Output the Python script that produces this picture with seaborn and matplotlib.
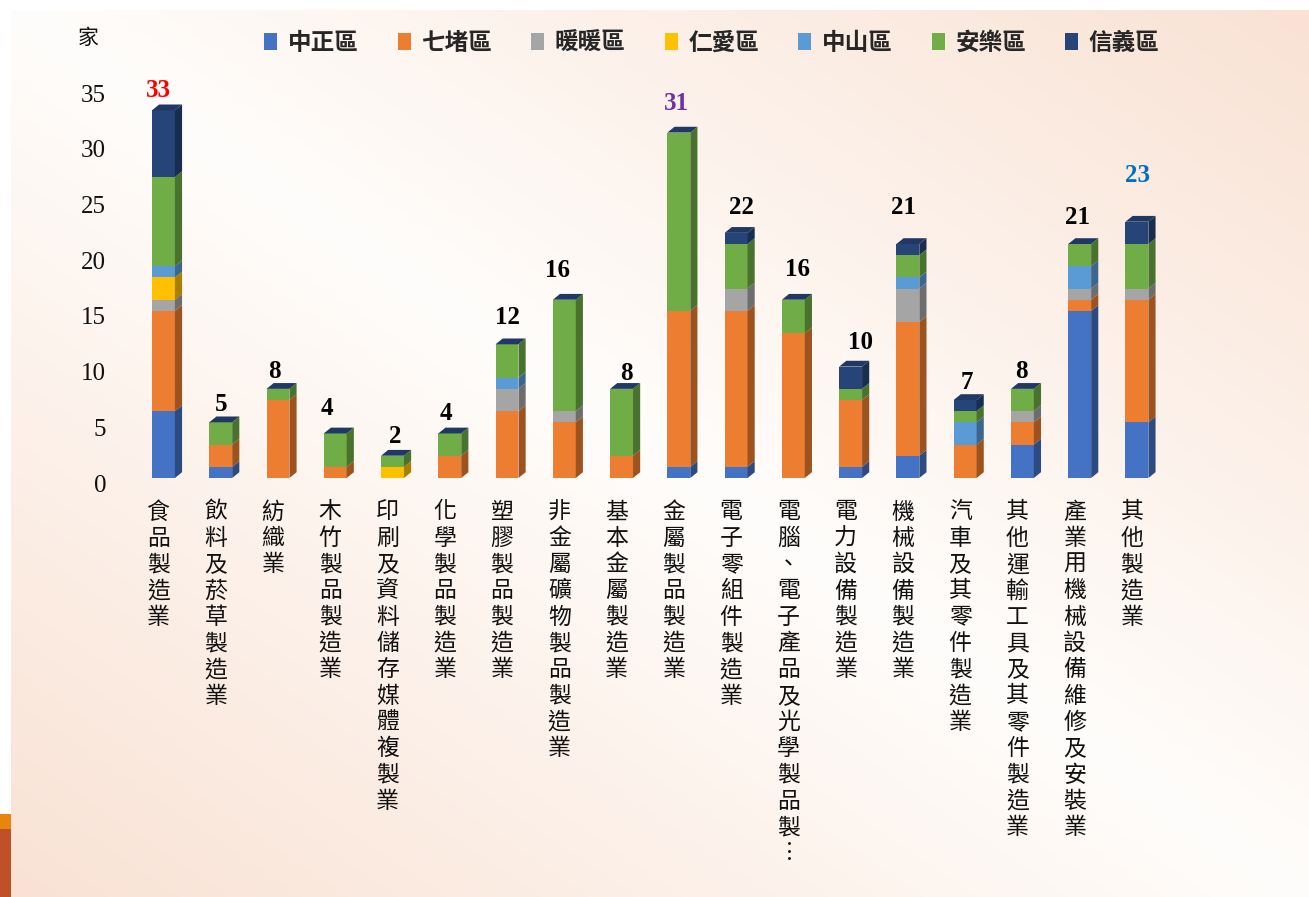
import numpy as np
import pandas as pd
import matplotlib
matplotlib.use("Agg")
import matplotlib.pyplot as plt
import matplotlib.transforms as mtransforms
from matplotlib.patches import Patch, Polygon, Rectangle
from matplotlib.colors import to_rgb
from matplotlib.font_manager import FontProperties
import seaborn as sns

# ---- data -------------------------------------------------------------
industries = [
    "食品製造業", "飲料及菸草製造業", "紡織業", "木竹製品製造業",
    "印刷及資料儲存媒體複製業", "化學製品製造業", "塑膠製品製造業",
    "非金屬礦物製品製造業", "基本金屬製造業", "金屬製品製造業",
    "電子零組件製造業", "電腦、電子產品及光學製品製…", "電力設備製造業",
    "機械設備製造業", "汽車及其零件製造業", "其他運輸工具及其零件製造業",
    "產業用機械設備維修及安裝業", "其他製造業",
]
districts = ["中正區", "七堵區", "暖暖區", "仁愛區", "中山區", "安樂區", "信義區"]

zhongzheng = [6, 1, 0, 0, 0, 0, 0, 0, 0, 1, 1, 0, 1, 2, 0, 3, 15, 5]
qidu       = [9, 2, 7, 1, 0, 2, 6, 5, 2, 14, 14, 13, 6, 12, 3, 2, 1, 11]
nuannuan   = [1, 0, 0, 0, 0, 0, 2, 1, 0, 0, 2, 0, 0, 3, 0, 1, 1, 1]
renai      = [2, 0, 0, 0, 1, 0, 0, 0, 0, 0, 0, 0, 0, 0, 0, 0, 0, 0]
zhongshan  = [1, 0, 0, 0, 0, 0, 1, 0, 0, 0, 0, 0, 0, 1, 2, 0, 2, 0]
anle       = [8, 2, 1, 3, 1, 2, 3, 10, 6, 16, 4, 3, 1, 2, 1, 2, 2, 4]
xinyi      = [6, 0, 0, 0, 0, 0, 0, 0, 0, 0, 1, 0, 2, 1, 1, 0, 0, 2]

y_ticks = [0, 5, 10, 15, 20, 25, 30, 35]
unit_label = "家"

# ---- styling ----------------------------------------------------------
colors = ["#4472C4", "#ED7D31", "#A5A5A5", "#FFC000", "#5B9BD5", "#70AD47", "#264478"]
top_color = "#1F3864"
# total-label colours and hand-placed nudges (pixels)
label_colors = ["#FF0000"] + ["black"] * 8 + ["#7030A0"] + ["black"] * 7 + ["#0070C0"]
label_dx = [-5, 0, -4, -8, 3, -4, 0, -7, 5, -2, 5, 4, 10, -4, 2, -1, -2, 1]
label_lift = [20, 18, 17, 25, 19, 20, 27, 29, 15, 29, 25, 30, 24, 37, 18, 17, 27, 46]

sns.set_theme(style="white")
plt.rcParams["font.family"] = ["Noto Sans CJK TC", "DejaVu Sans"]
serif = "Liberation Serif"

W, H = 1309, 897
fig = plt.figure(figsize=(W / 100, H / 100), dpi=100, facecolor="white")

# soft diagonal background panel
bg = fig.add_axes([11 / W, 0, 1 - 11 / W, 1 - 10 / H], zorder=-10)
u = np.linspace(0, 1, 500)[None, :]
v = np.linspace(0, 1, 400)[:, None]
f = np.clip(np.abs(u - v), 0, 1)[..., None]
base = np.array([255, 253, 251]) / 255
peach = np.array([249, 226, 212]) / 255
bg.imshow(base + (peach - base) * f, aspect="auto", interpolation="bilinear")
bg.set_axis_off()

# corner accents
fig.add_artist(Rectangle((0, 0), 11 / W, (H - 829) / H, transform=fig.transFigure,
                         facecolor="#BE5128", edgecolor="none"))
fig.add_artist(Rectangle((0, (H - 829) / H), 11 / W, 15 / H, transform=fig.transFigure,
                         facecolor="#E8850F", edgecolor="none"))

ax = fig.add_axes([129.1 / W, (H - 478) / H, 1042.2 / W, 390 / H])
ax.set_facecolor("none")

df = pd.DataFrame(
    dict(zip(districts, [zhongzheng, qidu, nuannuan, renai, zhongshan, anle, xinyi])),
    index=industries,
)
cum = df.cumsum(axis=1)
n = len(industries)
bar_w = 0.4

# front faces: cumulative bars drawn from the top series down
for name, color in reversed(list(zip(districts, colors))):
    sns.barplot(x=industries, y=cum[name].values, order=industries, color=color,
                saturation=1, width=bar_w, errorbar=None, linewidth=0, ax=ax)

# side and top faces for the 3-D look
dx, dy = 0.125, 0.52
for i in range(n):
    xl, xr = i - bar_w / 2, i + bar_w / 2
    bottom = 0
    for name, color in zip(districts, colors):
        h = df.iloc[i][name]
        if h > 0:
            side = tuple(np.array(to_rgb(color)) * 0.66)
            ax.add_patch(Polygon([(xr, bottom), (xr + dx, bottom + dy),
                                  (xr + dx, bottom + h + dy), (xr, bottom + h)],
                                 closed=True, facecolor=side, edgecolor="none"))
        bottom += h
    ax.add_patch(Polygon([(xl, bottom), (xl + dx, bottom + dy),
                          (xr + dx, bottom + dy), (xr, bottom)],
                         closed=True, facecolor=top_color, edgecolor="none"))

# totals above the bars
totals = df.sum(axis=1).values
for i, t in enumerate(totals):
    ax.annotate(f"{int(t)}", xy=(i, t), xytext=(label_dx[i], label_lift[i]),
                textcoords="offset pixels", ha="center", va="center",
                fontsize=18, fontweight="bold", family=serif,
                color=label_colors[i], annotation_clip=False)

# vertical category labels, one character per row
pitch = 26.3
for i, name in enumerate(industries):
    for k, ch in enumerate(name):
        ch = "︙" if ch == "…" else ch
        ax.annotate(ch, xy=(i, 0), xycoords=("data", "axes fraction"),
                    xytext=(-5, -(34 + k * pitch)), textcoords="offset pixels",
                    ha="center", va="center", fontsize=16.5, color="#111111",
                    annotation_clip=False)

ax.set_xlim(-0.6, n - 0.4)
ax.set_ylim(0, 35)
ax.set_xticks([])
ax.set_yticks(y_ticks)
ax.set_yticklabels([str(t) for t in y_ticks], fontsize=18, family=serif, color="#111111")
ax.tick_params(axis="y", length=0, pad=16.5)
shift = mtransforms.ScaledTranslation(0, -5 / 100, fig.dpi_scale_trans)
for lab in ax.get_yticklabels():
    lab.set_transform(lab.get_transform() + shift)
ax.set_xlabel("")
ax.set_ylabel("")
ax.grid(False)
sns.despine(ax=ax, left=True, bottom=True)

fig.text(88 / W, 1 - 38 / H, unit_label, ha="center", va="center", fontsize=15, color="#111111")

handles = [Patch(facecolor=c, edgecolor="none") for c in colors]
fig.legend(handles, districts, loc="center", bbox_to_anchor=(712 / W, 1 - 43 / H), ncol=7,
           frameon=False, handlelength=0.55, handleheight=0.7, handletextpad=0.45,
           columnspacing=1.65,
           prop=FontProperties(family="Noto Sans CJK TC", weight="bold", size=17))

fig.savefig("out.png", dpi=100, facecolor="white")
